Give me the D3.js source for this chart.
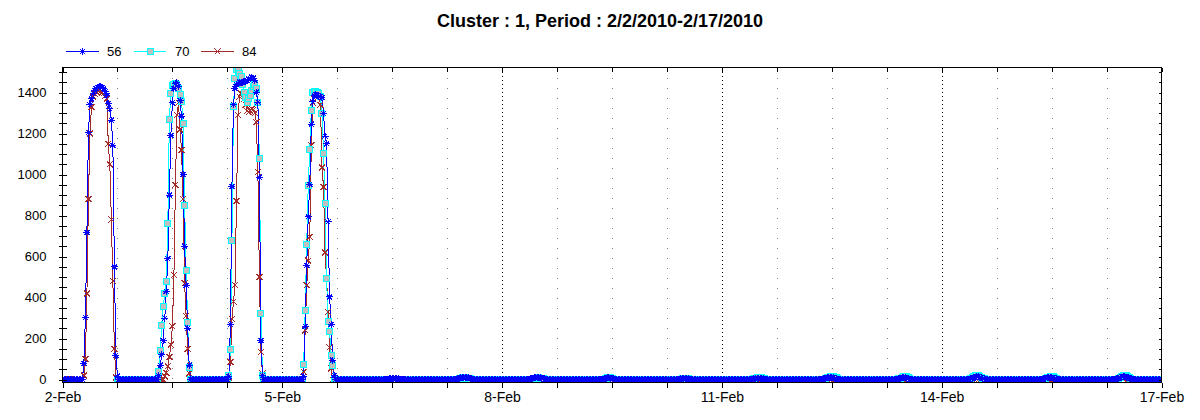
<!DOCTYPE html>
<html><head><meta charset="utf-8">
<script src="https://cdn.jsdelivr.net/npm/d3@7"></script>
<style>
body{margin:0;background:#fff}
svg{display:block}
text{font-family:"Liberation Sans",Arial,sans-serif;fill:#000}
</style>
</head><body>
<svg id="c" width="1200" height="420"></svg>
<script>
// ---------------- DATA ----------------
const chartTitle = "Cluster : 1, Period : 2/2/2010-2/17/2010";
const seriesNames = ["56", "70", "84"];
const periodStart = new Date(2010, 1, 2, 0, 0);
const periodEnd = new Date(2010, 1, 17, 0, 0);
const sampleMinutes = 30;          // one reading every half hour
const sampleCount = 721;           // 2-Feb 00:00 .. 17-Feb 00:00
const baselineValue = 0;           // night-time reading
const firstSample = [0, 36, 0];    // series 70 has no readings before 2-Feb 18:00

// daytime readings: [first sample index, values...]
const series56Days = [
  [14, [78,302,717,1205,1340,1369,1397,1410,1420,1425,1430,1430,1425,1420,1405,1385,1345,1320,1265,1143,549,118,16]],
  [63, [20,70,120,190,300,430,590,900,1190,1350,1420,1445,1450,1430,1360,1285,1000,650,460,250,70]],
  [109,[16,268,942,1341,1419,1440,1445,1450,1450,1448,1452,1455,1460,1465,1470,1475,1470,1460,1402,1353,987,191,19]],
  [158,[16,260,557,793,952,1245,1354,1387,1390,1385,1382,1380,1375,1298,1187,1150,769,403,270,94,21]],
  [212,[1,2,3,4,4,5,4,4,3,2,1]],
  [258,[2,4,6,8,9,10,10,9,8,6,4,2]],
  [306,[2,4,7,9,10,10,10,9,7,5,3]],
  [354,[2,4,6,8,8,7,6,4,2]],
  [404,[1,3,4,5,5,4,3,1]],
  [452,[2,4,5,6,6,6,5,4,2]],
  [498,[2,4,6,8,10,10,10,8,6,4,2]],
  [547,[2,4,6,8,8,8,6,4,2]],
  [594,[2,4,7,10,12,13,13,12,10,7,4,2]],
  [642,[2,4,6,8,10,10,9,7,5,3]],
  [690,[2,4,7,10,12,13,13,12,10,7,4,2]]
];
const series70Days = [
  [63, [40,140,265,355,420,480,760,1268,1395,1435,1440,1443,1440,1420,1390,1355,1250,850,530,280,60]],
  [109,[20,146,680,1330,1470,1510,1515,1495,1480,1440,1400,1377,1353,1370,1385,1410,1430,1440,1420,1350,1079,323,20]],
  [158,[74,335,661,948,1120,1314,1400,1405,1405,1400,1395,1380,1300,1102,860,493,285,232,118,70]],
  [259,[2,4,6,8,8,8,7,5,3]],
  [308,[2,4,6,8,8,7,5,3]],
  [355,[2,5,8,9,8,5,2]],
  [405,[1,3,5,6,5,3,1]],
  [453,[3,6,9,11,11,10,7,4]],
  [500,[4,8,12,15,16,15,12,8,4]],
  [548,[3,7,11,14,15,13,9,5]],
  [595,[4,9,14,18,20,20,17,12,7,3]],
  [644,[4,8,12,15,15,13,9,5]],
  [692,[5,10,15,20,22,21,17,11,5]]
];
const series84Days = [
  [14, [20,100,420,880,1200,1330,1380,1395,1405,1410,1410,1405,1400,1395,1385,1370,1150,1050,780,480,150,10]],
  [67, [15,32,65,110,170,260,510,950,1290,1350,1220,1120,880,470,310,150,30]],
  [109,[10,85,296,380,460,870,1290,1380,1395,1395,1370,1340,1310,1304,1312,1320,1315,1300,1255,1012,500,135,30]],
  [158,[37,240,460,580,696,1143,1350,1395,1400,1400,1390,1340,1035,940,620,493,330,157,55]],
  [259,[1,3,5,6,7,6,5,3,1]],
  [307,[2,4,6,7,7,6,4,2]],
  [500,[2,4,6,8,8,6,4,2]],
  [596,[2,5,8,10,10,8,5,2]],
  [692,[2,5,8,10,10,8,5,2]]
];
const yTickValues = [0, 200, 400, 600, 800, 1000, 1200, 1400];
const yMinorStep = 50;
const xTickLabels = ["2-Feb", "5-Feb", "8-Feb", "11-Feb", "14-Feb", "17-Feb"];
const xLabelDates = [new Date(2010,1,2), new Date(2010,1,5), new Date(2010,1,8), new Date(2010,1,11), new Date(2010,1,14), new Date(2010,1,17)];
const xMinorHours = 18;

// ---------------- STYLE ----------------
const colors = ["#0000ff", "#00ffff", "#a52a2a"];
const plot = {left: 62.5, right: 1161.5, top: 67.5, bottom: 382};

// ---------------- BUILD ----------------
function buildSeries(first, days) {
  const vals = [];
  for (let k = first; k < sampleCount; k++) vals[k] = baselineValue;
  days.forEach(([start, arr]) => arr.forEach((v, i) => { vals[start + i] = v; }));
  return d3.range(first, sampleCount).map(k => ({
    t: new Date(+periodStart + k * sampleMinutes * 60000), v: vals[k]
  }));
}
const allSeries = [
  buildSeries(firstSample[0], series56Days),
  buildSeries(firstSample[1], series70Days),
  buildSeries(firstSample[2], series84Days)
];

const svg = d3.select("#c");
svg.append("rect").attr("width", 1200).attr("height", 420).attr("fill", "#fff");

const x = d3.scaleTime().domain([periodStart, periodEnd]).range([plot.left, plot.right]);
const y = d3.scaleLinear().domain([-12, 1522]).range([plot.bottom, plot.top]);

const xTickDates = d3.range(0, 15 * 24 + 1, xMinorHours).map(h => new Date(+periodStart + h * 3600000));
const isMajor = d => xLabelDates.some(m => +m === +d);
const labelOf = d => { const i = xLabelDates.findIndex(m => +m === +d); return i >= 0 ? xTickLabels[i] : ""; };

// title
svg.append("text").attr("x", 600).attr("y", 27).attr("text-anchor", "middle")
  .style("font-weight", "bold").style("font-size", "18px").text(chartTitle);

// gridlines
const grid = svg.append("g").attr("shape-rendering", "crispEdges");
grid.selectAll("line").data(xTickDates.filter(d => +d !== +periodStart && +d !== +periodEnd)).join("line")
  .attr("x1", d => Math.round(x(d)) + 0.5).attr("x2", d => Math.round(x(d)) + 0.5)
  .attr("y1", plot.top).attr("y2", plot.bottom)
  .attr("stroke", d => isMajor(d) ? "#000" : "#808080")
  .attr("stroke-dasharray", d => isMajor(d) ? "1,3" : "1,9");

// clip
svg.append("clipPath").attr("id", "clip").append("rect")
  .attr("x", plot.left).attr("y", plot.top)
  .attr("width", plot.right - plot.left).attr("height", plot.bottom - plot.top);

const area = svg.append("g").attr("clip-path", "url(#clip)");
const line = d3.line().x(d => x(d.t)).y(d => y(d.v));

const order = [2, 1, 0];
order.forEach(si => {
  area.append("path").datum(allSeries[si]).attr("d", line)
    .attr("fill", "none").attr("stroke", colors[si]).attr("stroke-width", 1)
    .attr("shape-rendering", "crispEdges");
});

const asterisk = "M-3.5,0H3.5M0,-3.5V3.5M-2.5,-2.5L2.5,2.5M-2.5,2.5L2.5,-2.5";
const cross = "M-3,-3L3,3M-3,3L3,-3";
function drawMarker(sel, si) {
  if (si === 0) sel.append("path").attr("d", asterisk).attr("stroke", colors[0]).attr("fill", "none");
  else if (si === 1) sel.append("rect").attr("x", -3).attr("y", -3).attr("width", 6).attr("height", 6)
      .attr("fill", "#c0c0c0").attr("stroke", colors[1]);
  else sel.append("path").attr("d", cross).attr("stroke", colors[2]).attr("fill", "none");
}
order.forEach(si => {
  const g = area.append("g").attr("shape-rendering", "crispEdges");
  g.selectAll("g").data(allSeries[si]).join("g")
    .attr("transform", d => `translate(${x(d.t)},${y(d.v)})`)
    .each(function () { drawMarker(d3.select(this), si); });
});

// border
svg.append("rect").attr("x", plot.left).attr("y", plot.top)
  .attr("width", plot.right - plot.left).attr("height", plot.bottom - plot.top + 0.5)
  .attr("fill", "none").attr("stroke", "#000").attr("shape-rendering", "crispEdges");

// axes
const yAllTicks = d3.range(0, 1501, yMinorStep);
const xAxis = d3.axisBottom(x).tickValues(xTickDates).tickFormat(labelOf).tickSize(5).tickPadding(5).tickSizeOuter(0);
const gx = svg.append("g").attr("transform", `translate(0,${plot.bottom + 0.5})`).call(xAxis);
gx.select(".domain").remove();
gx.selectAll("text").style("font-size", "14px").style("font-family", "'Liberation Sans',Arial,sans-serif");

const yAxis = d3.axisLeft(y).tickValues(yAllTicks)
  .tickFormat(v => yTickValues.includes(v) ? String(v) : "").tickSize(4).tickPadding(12).tickSizeOuter(0);
const gy = svg.append("g").attr("transform", `translate(${plot.left},0)`).call(yAxis);
gy.select(".domain").remove();
gy.selectAll(".tick line").attr("x1", 4);
gy.selectAll("text").style("font-size", "13px").style("font-family", "'Liberation Sans',Arial,sans-serif");

const yRight = d3.axisRight(y).tickValues(yAllTicks).tickFormat("").tickSize(-3).tickSizeOuter(0);
const gr = svg.append("g").attr("transform", `translate(${plot.right},0)`).call(yRight);
gr.select(".domain").remove();

const xTop = d3.axisTop(x).tickValues(xTickDates).tickFormat("").tickSize(-4).tickSizeOuter(0);
const gt = svg.append("g").attr("transform", `translate(0,${plot.top})`).call(xTop);
gt.select(".domain").remove();
svg.selectAll(".tick line").attr("shape-rendering", "crispEdges");

// legend
const legendItems = [
  {si: 0, x1: 66, x2: 99, tx: 107},
  {si: 1, x1: 134, x2: 166, tx: 175},
  {si: 2, x1: 201, x2: 234, tx: 242}
];
const lg = svg.append("g").attr("shape-rendering", "crispEdges");
legendItems.forEach(it => {
  lg.append("line").attr("x1", it.x1).attr("x2", it.x2).attr("y1", 51.5).attr("y2", 51.5)
    .attr("stroke", colors[it.si]);
  const m = lg.append("g").attr("transform", `translate(${(it.x1 + it.x2) / 2},51.5)`);
  drawMarker(m, it.si);
  lg.append("text").attr("x", it.tx).attr("y", 56).style("font-size", "13px").text(seriesNames[it.si]);
});
</script>
</body></html>
